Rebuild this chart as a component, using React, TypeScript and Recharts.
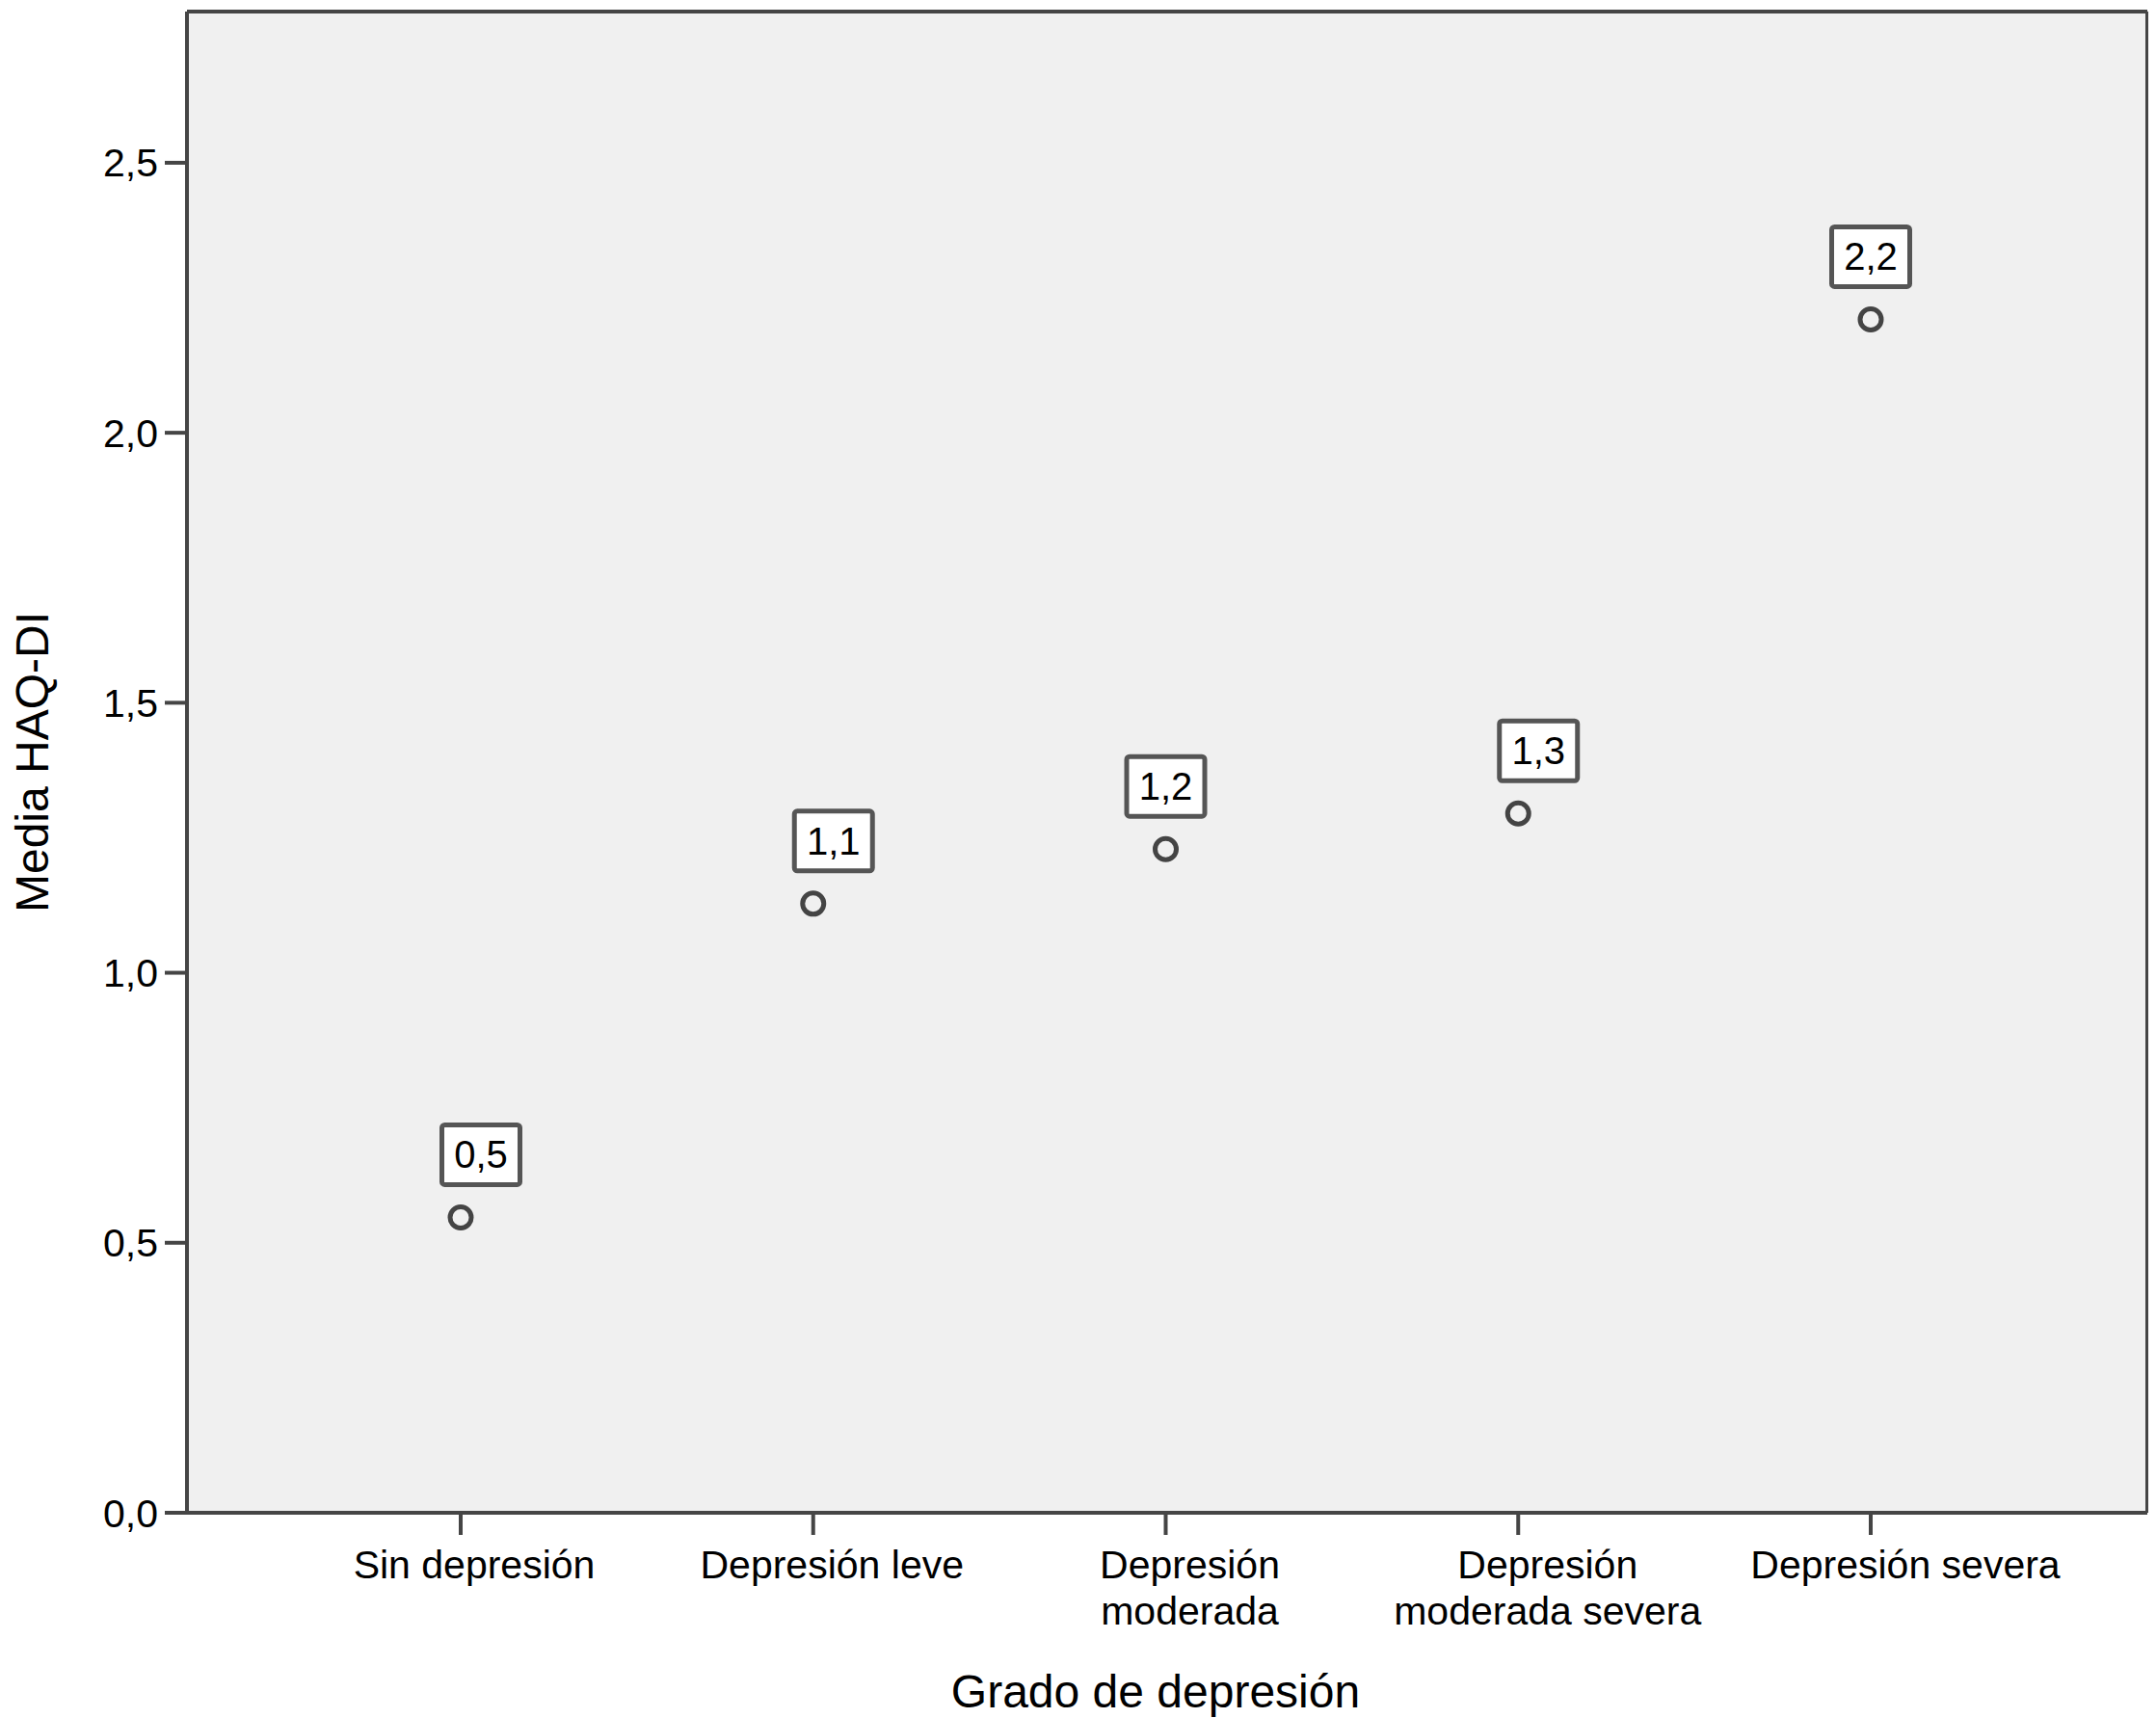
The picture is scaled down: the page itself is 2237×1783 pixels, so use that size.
import React from 'react';
import { LineChart, Line, XAxis, YAxis, CartesianGrid, Label } from 'recharts';

const categories = ['Sin depresión', 'Depresión leve', 'Depresión\nmoderada', 'Depresión\nmoderada severa', 'Depresión severa'];
const meanHAQ = [0.547, 1.128, 1.229, 1.295, 2.21];
const valueLabels = ['0,5', '1,1', '1,2', '1,3', '2,2'];
const yTicks = [0, 0.5, 1, 1.5, 2, 2.5];
const yMax = 2.78;

const data = categories.map((c, i) => ({ name: c, value: meanHAQ[i], label: valueLabels[i] }));

const FONT = '"Liberation Sans", Arial, Helvetica, sans-serif';
const AXIS = '#454545';
const labelShift = [21, 21, 0, 21, 0];

const XTick = (props: any) => {
  const { x, y, payload, index } = props;
  const lines = String(payload.value).split('\n');
  const tx = x + 14 + 5.5 * (index ?? 0);
  return (
    <text x={tx} y={y + 43} textAnchor="middle" fontFamily={FONT} fontSize={41} fill="#000">
      {lines.map((l, i) => (
        <tspan key={i} x={tx} dy={i === 0 ? 0 : 48}>{l}</tspan>
      ))}
    </text>
  );
};

const renderDot = (props: any) => {
  const { cx, cy, index } = props;
  return <circle key={`d${index}`} cx={cx} cy={cy} r={11} fill="#f0f0f0" stroke="#444" strokeWidth={5} />;
};

const renderLabel = (props: any) => {
  const { x, y, index } = props;
  const cx = x + labelShift[index];
  const w = 81;
  const h = 62;
  const bottom = y - 34;
  return (
    <g key={`l${index}`}>
      <rect x={cx - w / 2} y={bottom - h} width={w} height={h} rx={3} fill="#fff" stroke="#555" strokeWidth={5} />
      <text x={cx} y={bottom - h / 2 + 14} textAnchor="middle" fontFamily={FONT} fontSize={40} fill="#000">
        {valueLabels[index]}
      </text>
    </g>
  );
};

export default function App() {
  return (
    <div style={{ width: 2229, height: 1775 }}>
      <LineChart width={2229} height={1775} data={data} margin={{ top: 4, right: 9, left: 86, bottom: 63 }}>
        <CartesianGrid
          fill="#f0f0f0"
          fillOpacity={1}
          stroke={AXIS}
          strokeWidth={4}
          horizontalCoordinatesGenerator={(p: any) => [p.offset.top]}
          verticalCoordinatesGenerator={(p: any) => [p.offset.left + p.offset.width]}
        />
        <XAxis
          dataKey="name"
          type="category"
          interval={0}
          height={150}
          padding={{ left: 284, right: 287 }}
          tick={<XTick />}
          tickSize={23}
          tickMargin={2}
          axisLine={{ stroke: AXIS, strokeWidth: 4 }}
          tickLine={{ stroke: AXIS, strokeWidth: 4 }}
        >
          <Label
            content={(p: any) => {
              const vb = p.viewBox;
              return (
                <text x={vb.x + vb.width / 2 - 12} y={1764} textAnchor="middle" fontFamily={FONT} fontSize={48} fill="#000">
                  Grado de depresión
                </text>
              );
            }}
          />
        </XAxis>
        <YAxis
          type="number"
          domain={[0, yMax]}
          allowDataOverflow
          ticks={yTicks}
          interval={0}
          width={100}
          tickSize={23}
          tickMargin={7}
          tickFormatter={(v: number) => v.toFixed(1).replace('.', ',')}
          tick={{ fontFamily: FONT, fontSize: 41, fill: '#000' }}
          axisLine={{ stroke: AXIS, strokeWidth: 4 }}
          tickLine={{ stroke: AXIS, strokeWidth: 4 }}
        >
          <Label
            content={(p: any) => {
              const vb = p.viewBox;
              const cx = 26;
              const cy = vb.y + vb.height / 2;
              return (
                <text x={cx} y={cy} transform={`rotate(-90, ${cx}, ${cy})`} dy={16} textAnchor="middle" fontFamily={FONT} fontSize={48} fill="#000">
                  Media HAQ-DI
                </text>
              );
            }}
          />
        </YAxis>
        <Line
          dataKey="value"
          stroke="none"
          isAnimationActive={false}
          dot={renderDot}
          activeDot={false}
          label={renderLabel}
        />
      </LineChart>
    </div>
  );
}
